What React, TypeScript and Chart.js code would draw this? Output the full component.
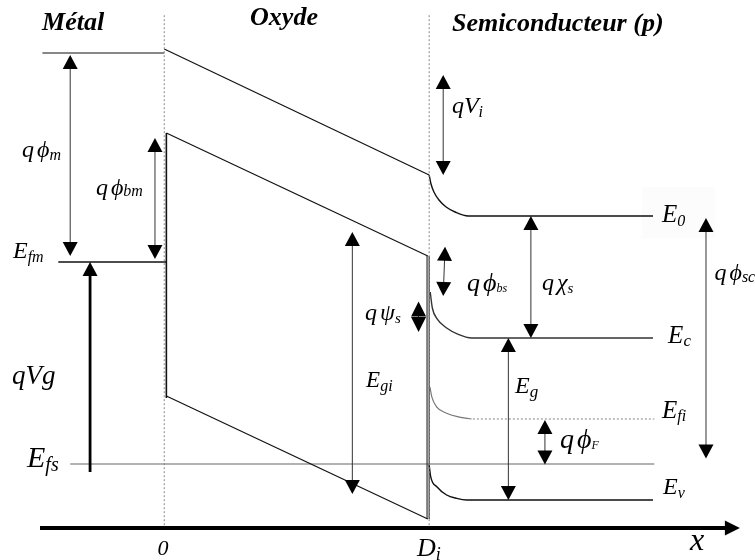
import React, { useEffect, useRef } from "react";
import { Chart, registerables } from "chart.js";
Chart.register(...registerables);

// Units: x = distance (oxide thickness Di = 10), y = energy relative to E_fs (= 0)
const X_MIN = -6.2;
const X_MAX = 22.3;
const Y_MIN = -2.4;
const Y_MAX = 11.6;

const METAL_VACUUM = [{ x: -4.6, y: 10.275 }, { x: 0, y: 10.275 }];
const METAL_EFM = [{ x: -4.0, y: 5.05 }, { x: 0.08, y: 5.05 }];
const OXIDE_TOP = [{ x: 0, y: 10.375 }, { x: 10, y: 7.225 }];
const OXIDE_CB = [{ x: 0.08, y: 8.275 }, { x: 9.95, y: 5.2 }];
const OXIDE_VB = [{ x: 0.08, y: 1.7 }, { x: 9.95, y: -1.375 }];
const METAL_WALL = [{ x: 0.08, y: 8.275 }, { x: 0.08, y: 1.65 }];
const OXIDE_WALL_L = [{ x: 9.92, y: 5.2 }, { x: 9.92, y: -1.375 }];
const OXIDE_WALL_R = [{ x: 10.0, y: 5.2 }, { x: 10.0, y: -1.375 }];
const GUIDE_0 = [{ x: 0, y: 11.22 }, { x: 0, y: -1.6 }];
const GUIDE_DI = [{ x: 10.0, y: 11.22 }, { x: 10.0, y: -1.6 }];

const SC_E0 = [
  { x: 10.0, y: 7.225 }, { x: 10.07, y: 7.0 }, { x: 10.18, y: 6.8 }, { x: 10.37, y: 6.6 },
  { x: 10.64, y: 6.425 }, { x: 10.98, y: 6.3 }, { x: 11.47, y: 6.2 }, { x: 18.45, y: 6.2 },
];
const SC_EC = [
  { x: 10.04, y: 4.3 }, { x: 10.12, y: 3.9 }, { x: 10.3, y: 3.63 }, { x: 10.66, y: 3.4 },
  { x: 11.1, y: 3.24 }, { x: 11.6, y: 3.15 }, { x: 18.45, y: 3.15 },
];
const SC_EFI_BEND = [
  { x: 10.03, y: 1.925 }, { x: 10.1, y: 1.68 }, { x: 10.28, y: 1.43 }, { x: 10.66, y: 1.27 },
  { x: 11.1, y: 1.18 }, { x: 11.6, y: 1.125 },
];
const SC_EFI = [{ x: 11.65, y: 1.125 }, { x: 18.5, y: 1.125 }];
const SC_EV = [
  { x: 10.0, y: -0.025 }, { x: 10.06, y: -0.32 }, { x: 10.29, y: -0.57 }, { x: 10.66, y: -0.775 },
  { x: 11.04, y: -0.86 }, { x: 11.42, y: -0.9 }, { x: 18.45, y: -0.9 },
];
const EFS = [{ x: -3.55, y: 0 }, { x: 18.5, y: 0 }];

// arrows: [id, x1, y1, x2, y2, heads]
const ARROWS: [string, number, number, number, number, string][] = [
  ["phim", -3.55, 10.225, -3.55, 5.2, "both"],
  ["phibm", -0.35, 8.15, -0.35, 5.125, "both"],
  ["vg", -2.8, -0.2, -2.8, 5.05, "end"],
  ["egi", 7.1, 5.8, 7.1, -0.75, "both"],
  ["vi", 10.53, 9.725, 10.53, 7.225, "both"],
  ["phibs", 10.6, 5.43, 10.53, 4.2, "both"],
  ["chis", 13.84, 6.2, 13.84, 3.15, "both"],
  ["eg", 12.99, 3.15, 12.99, -0.9, "both"],
  ["phif", 14.37, 1.1, 14.37, -0.01, "both"],
  ["phisc", 20.45, 6.15, 20.45, 0.14, "both"],
  ["psis", 9.6, 4.06, 9.6, 3.3, "both"],
  ["axis", -4.69, -1.6, 21.73, -1.6, "end"],
];

// labels: [id, prefix, symbol, sub, x, y]
const LABELS: [string, string, string, string, number, number][] = [
  ["phim", "q", "ϕ", "m", -5.37, 7.675],
  ["phibm", "q", "ϕ", "bm", -2.58, 6.725],
  ["efm", "", "E", "fm", -5.71, 5.15],
  ["vg", "", "qVg", "", -5.75, 2.0],
  ["efs", "", "E", "fs", -5.18, -0.075],
  ["zero", "", "0", "", -0.25, -2.275],
  ["di", "", "D", "i", 9.54, -2.3],
  ["x", "", "x", "", 19.85, -2.15],
  ["vi", "", "qV", "i", 10.86, 8.775],
  ["e0", "", "E", "0", 18.79, 6.05],
  ["phibs", "q", "ϕ", "bs", 11.43, 4.325],
  ["chis", "q", "χ", "s", 14.26, 4.35],
  ["psis", "q", "ψ", "s", 7.58, 3.6],
  ["egi", "", "E", "gi", 7.62, 1.925],
  ["eg", "", "E", "g", 13.24, 1.775],
  ["ec", "", "E", "c", 19.02, 3.025],
  ["efi", "", "E", "fi", 18.79, 1.15],
  ["ev", "", "E", "v", 18.83, -0.75],
  ["phisc", "q", "ϕ", "sc", 20.77, 4.6],
  ["phif", "q", "ϕ", "F", 14.94, 0.4],
];

const TITLES: [string, number, number][] = [
  ["Métal", -4.61, 10.85],
  ["Oxyde", 3.24, 10.975],
  ["Semiconducteur (p)", 10.86, 10.825],
];

const E0_BOX = { x1: 18.04, y1: 6.925, x2: 20.79, y2: 5.65 };

const FONT = '"Liberation Serif", "Times New Roman", serif';
const LABEL_SIZE: Record<string, [number, number, number]> = {
  // main size, sub size, sub drop
  phim: [24, 16, 3],
  phibm: [24, 16, 1],
  efm: [24, 16, 4],
  vg: [27, 0, 0],
  efs: [30, 20, 4],
  zero: [22, 0, 0],
  di: [26, 18, 4],
  x: [32, 0, 0],
  vi: [24, 16, 4],
  e0: [25, 16, 4],
  phibs: [26, 12, 1],
  chis: [24, 15, 3],
  psis: [24, 15, 3],
  egi: [23, 16, 4],
  eg: [24, 17, 4],
  ec: [25, 17, 3],
  efi: [25, 16, 3],
  ev: [24, 16, 4],
  phisc: [24, 16, 2],
  phif: [28, 12, 1],
};

const line = (data: { x: number; y: number }[], color: string, width: number, extra: any = {}) => ({
  data,
  borderColor: color,
  borderWidth: width,
  showLine: true,
  pointRadius: 0,
  pointHoverRadius: 0,
  fill: false,
  ...extra,
});

const diagramPlugin = {
  id: "diagram",
  beforeDatasetsDraw(chart: any) {
    const { ctx, scales } = chart;
    const x1 = scales.x.getPixelForValue(E0_BOX.x1);
    const x2 = scales.x.getPixelForValue(E0_BOX.x2);
    const y1 = scales.y.getPixelForValue(E0_BOX.y1);
    const y2 = scales.y.getPixelForValue(E0_BOX.y2);
    ctx.save();
    ctx.fillStyle = "#fcfcfc";
    ctx.fillRect(x1, y1, x2 - x1, y2 - y1);
    ctx.restore();
  },
  afterDatasetsDraw(chart: any) {
    const { ctx, scales } = chart;
    const px = (v: number) => scales.x.getPixelForValue(v);
    const py = (v: number) => scales.y.getPixelForValue(v);
    ctx.save();
    for (const [id, ax1, ay1, ax2, ay2, heads] of ARROWS) {
      const p1 = { x: px(ax1), y: py(ay1) };
      const p2 = { x: px(ax2), y: py(ay2) };
      const dx = p2.x - p1.x;
      const dy = p2.y - p1.y;
      const len = Math.hypot(dx, dy);
      const ux = dx / len;
      const uy = dy / len;
      const nx = -uy;
      const ny = ux;
      const isAxis = id === "axis";
      const L = isAxis ? 15 : id === "psis" ? 15 : 14;
      const W = 7.5;
      const lw = isAxis ? 4 : id === "vg" ? 2.8 : 1;
      const hasStart = heads === "both";
      const hasEnd = heads === "both" || heads === "end";
      const s = hasStart ? { x: p1.x + ux * L * 0.9, y: p1.y + uy * L * 0.9 } : p1;
      const e = hasEnd ? { x: p2.x - ux * L * 0.9, y: p2.y - uy * L * 0.9 } : p2;
      ctx.strokeStyle = isAxis || id === "vg" ? "#000" : "#333";
      ctx.lineWidth = lw;
      ctx.beginPath();
      ctx.moveTo(s.x, s.y);
      ctx.lineTo(e.x, e.y);
      ctx.stroke();
      ctx.fillStyle = "#000";
      const head = (tip: { x: number; y: number }, dirx: number, diry: number) => {
        const bx = tip.x - dirx * L;
        const by = tip.y - diry * L;
        ctx.beginPath();
        ctx.moveTo(tip.x, tip.y);
        ctx.lineTo(bx + nx * W, by + ny * W);
        ctx.lineTo(bx - nx * W, by - ny * W);
        ctx.closePath();
        ctx.fill();
      };
      if (hasEnd) head(p2, ux, uy);
      if (hasStart) head(p1, -ux, -uy);
    }

    ctx.fillStyle = "#000";
    ctx.textBaseline = "alphabetic";
    ctx.textAlign = "left";
    for (const [id, pre, main, sub, lx, ly] of LABELS) {
      const [ms, ss, drop] = LABEL_SIZE[id];
      let x = px(lx);
      const y = py(ly);
      ctx.font = `italic ${ms}px ${FONT}`;
      if (pre) {
        ctx.fillText(pre, x, y);
        x += ctx.measureText(pre).width + 3;
      }
      ctx.fillText(main, x, y);
      const w = ctx.measureText(main).width;
      if (sub) {
        ctx.font = `italic ${ss}px ${FONT}`;
        ctx.fillText(sub, x + w, y + drop);
      }
    }
    for (const [t, tx, ty] of TITLES) {
      ctx.font = `italic bold 26px ${FONT}`;
      ctx.fillText(t, px(tx), py(ty));
    }
    ctx.restore();
  },
};

export default function App() {
  const ref = useRef<HTMLCanvasElement | null>(null);
  useEffect(() => {
    if (!ref.current) return;
    const mono = { cubicInterpolationMode: "monotone" };
    const dotted = { borderDash: [2, 2] };
    const chart = new Chart(ref.current, {
      type: "scatter",
      data: {
        datasets: [
          line(GUIDE_0, "#888", 1, dotted),
          line(GUIDE_DI, "#888", 1, dotted),
          line(METAL_VACUUM, "#111", 1.2),
          line(METAL_EFM, "#111", 1.4),
          line(OXIDE_TOP, "#111", 1.2),
          line(OXIDE_CB, "#111", 1.2),
          line(OXIDE_VB, "#111", 1.2),
          line(METAL_WALL, "#111", 1.6),
          line(OXIDE_WALL_L, "#222", 1.1),
          line(OXIDE_WALL_R, "#222", 1.1),
          line(SC_E0, "#111", 1.4, mono),
          line(SC_EC, "#333", 1.4, mono),
          line(SC_EFI_BEND, "#777", 1.2, mono),
          line(SC_EFI, "#999", 1.2, dotted),
          line(SC_EV, "#111", 1.4, mono),
          line(EFS, "#666", 1.2),
        ] as any,
      },
      options: {
        animation: false,
        responsive: false,
        devicePixelRatio: 1,
        events: [],
        layout: { padding: 0 },
        plugins: { legend: { display: false }, tooltip: { enabled: false }, title: { display: false } },
        scales: {
          x: { type: "linear", min: X_MIN, max: X_MAX, display: false },
          y: { type: "linear", min: Y_MIN, max: Y_MAX, display: false },
        },
      } as any,
      plugins: [diagramPlugin],
    });
    return () => chart.destroy();
  }, []);
  return (
    <div style={{ position: "absolute", left: 0, top: 0, width: 755, height: 560, background: "#fff" }}>
      <canvas ref={ref} width={755} height={560} />
    </div>
  );
}
